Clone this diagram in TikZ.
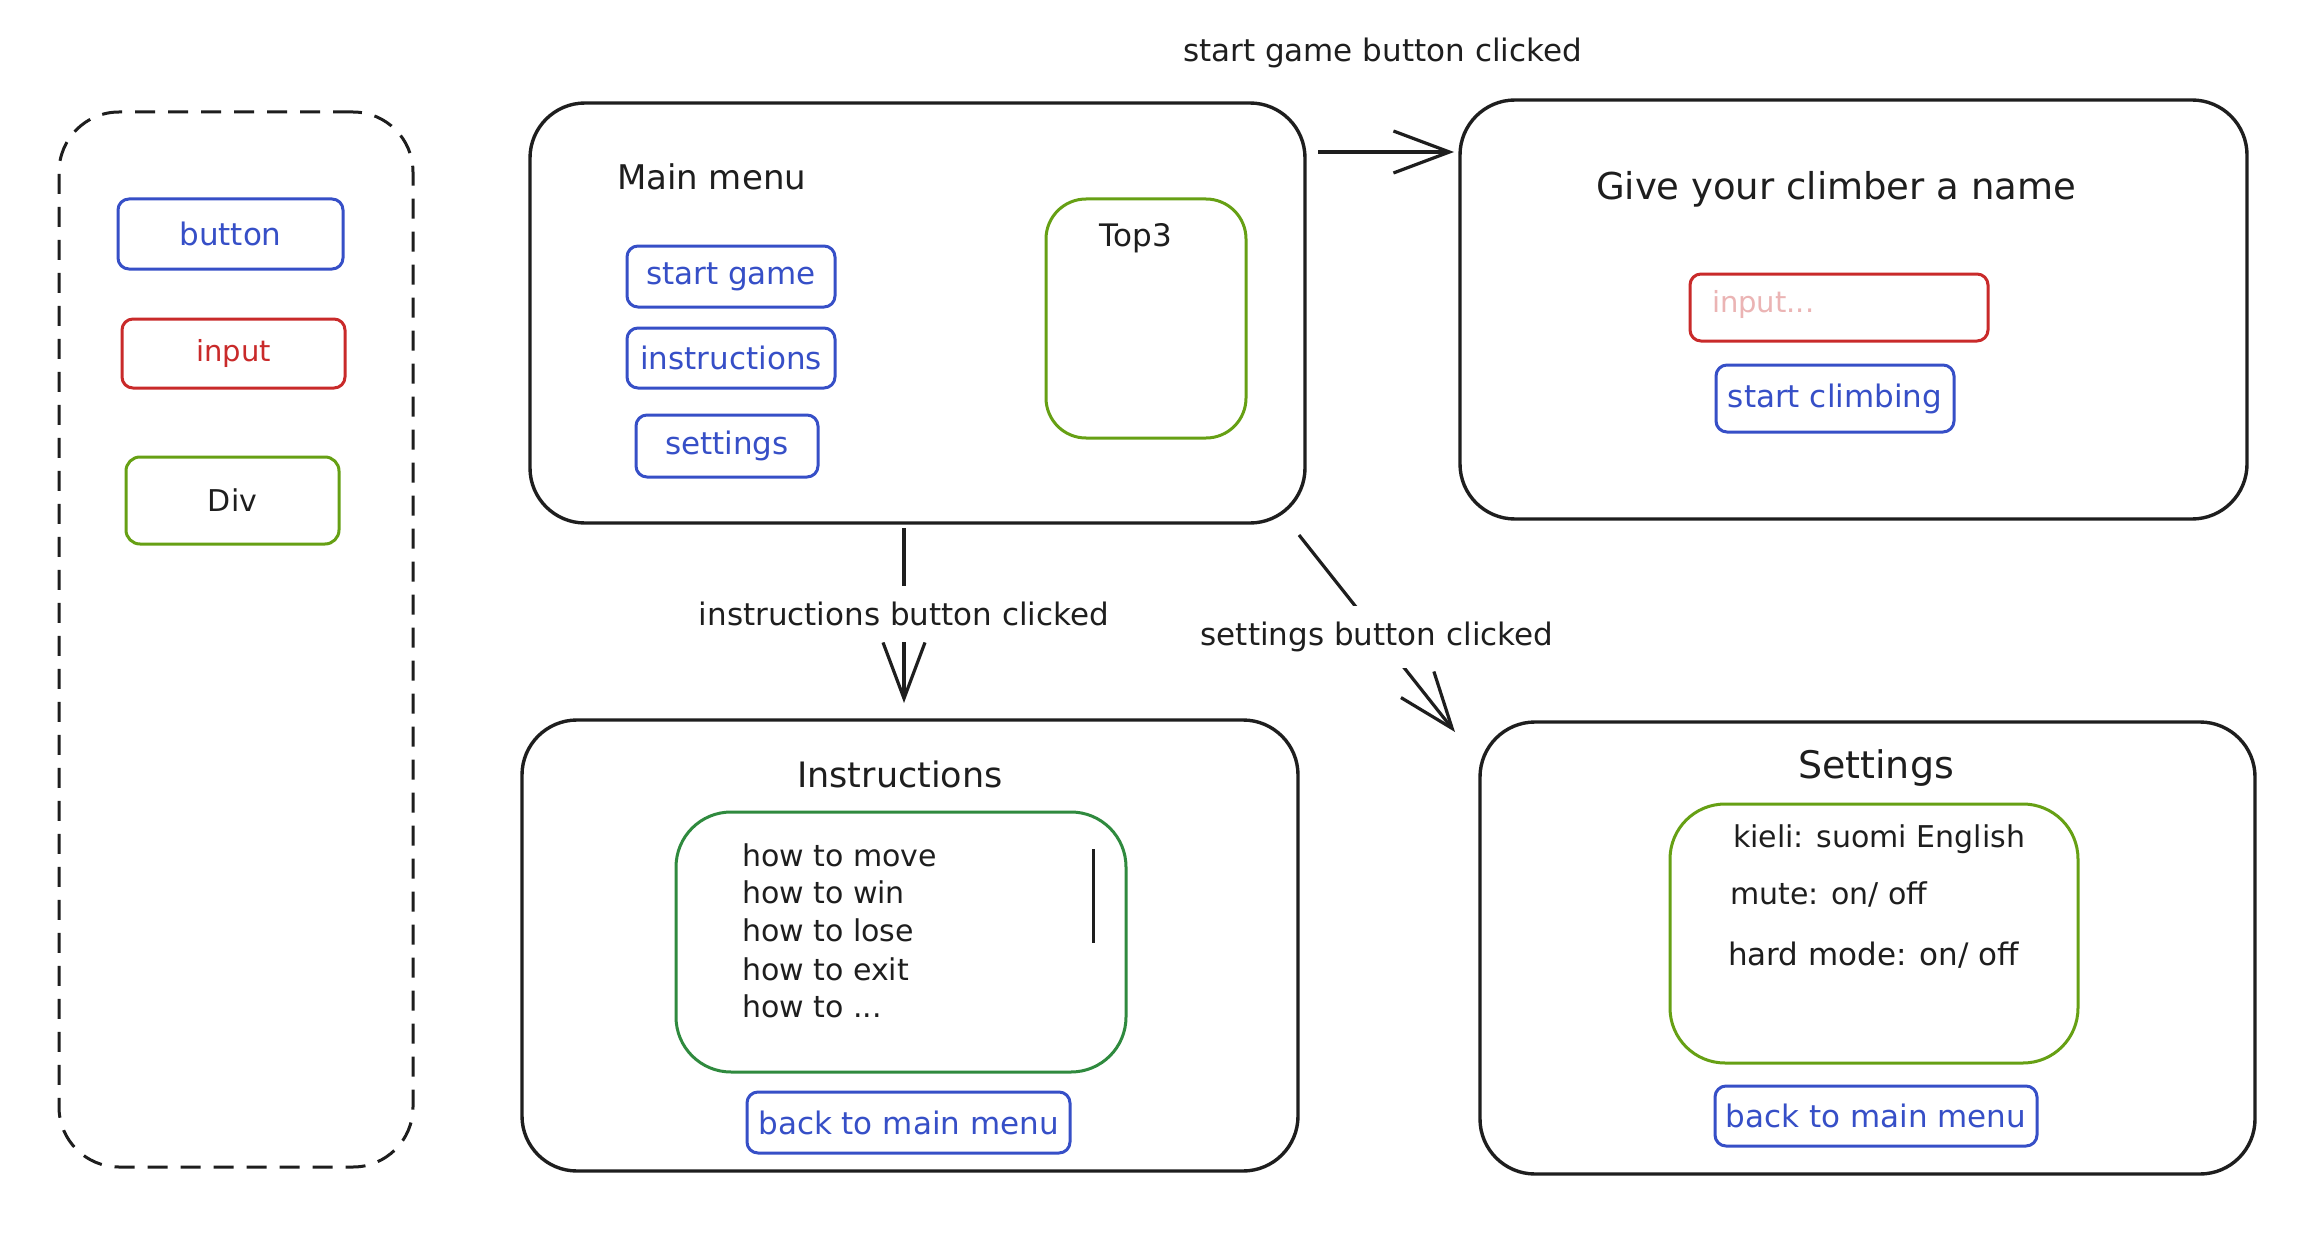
\documentclass[tikz,border=0pt]{standalone}
\usepackage{fontspec}
\setmainfont{DejaVu Sans}
\usetikzlibrary{arrows.meta}
\definecolor{ink}{HTML}{1E1E1E}
\definecolor{btnblue}{HTML}{364FC7}
\definecolor{inpred}{HTML}{C92A2A}
\definecolor{placeholder}{HTML}{EBB4B4}
\definecolor{olive}{HTML}{66A014}
\definecolor{darkgreen}{HTML}{2F8A3E}
\newcommand{\fsz}[1]{\fontsize{#1}{#1}\selectfont}
\begin{document}
\begin{tikzpicture}[x=1pt,y=-1pt,
  every node/.style={inner sep=0pt, outer sep=0pt},
  frame/.style={draw=ink, line width=3.4pt, rounded corners=55pt},
  legendbox/.style={draw=ink, line width=3pt, dash pattern=on 20pt off 13pt, rounded corners=60pt},
  btn/.style={draw=btnblue, line width=3pt, rounded corners=11pt, text=btnblue, font=\fsz{31}},
  inp/.style={draw=inpred, line width=3pt, rounded corners=11pt, text=inpred, font=\fsz{29}},
  divolive/.style={draw=olive, line width=3pt, rounded corners=40pt},
  divdark/.style={draw=darkgreen, line width=3pt, rounded corners=55pt},
  txt/.style={text=ink, font=\fsz{30}, anchor=base west},
  ttl/.style={text=ink, anchor=base},
  edgelbl/.style={fill=white, text=ink, font=\fsz{31}, inner xsep=4pt, inner ysep=16pt},
  arr/.style={draw=ink, line width=3.2pt, -{Straight Barb[length=56pt,width=42pt]}}
]
\fill[white] (0,0) rectangle (2310,1252);
\useasboundingbox (0,0) rectangle (2310,1252);

% legend
\node[legendbox, minimum width=354pt, minimum height=1055pt] (legend) at (236,639.5) {};
\node[btn, minimum width=225pt, minimum height=70pt] (lgbtn) at (230.5,234) {button};
\node[inp, minimum width=223pt, minimum height=69pt] (lginp) at (233.5,353.5) {input};
\node[divolive, rounded corners=14pt, minimum width=213pt, minimum height=87pt, text=ink, font=\fsz{30}] (lgdiv) at (232.5,500.5) {Div};

% main menu
\node[frame, minimum width=775pt, minimum height=420pt] (main) at (917.5,313) {};
\node[txt, font=\fsz{34}] (maint) at (617,190) {Main menu};
\node[btn, minimum width=208pt, minimum height=61pt] (bstart) at (731,276.5) {start game};
\node[btn, minimum width=208pt, minimum height=60pt] (binstr) at (731,358) {instructions};
\node[btn, minimum width=182pt, minimum height=62pt] (bsett) at (727,446) {settings};
\node[divolive, minimum width=200pt, minimum height=239pt] (top3) at (1146,318.5) {};
\node[ttl, font=\fsz{31}] (top3t) at (1136,246) {Top3};

% give name
\node[frame, minimum width=787pt, minimum height=419pt] (give) at (1853.5,309.5) {};
\node[ttl, font=\fsz{37}] (givet) at (1836,200) {Give your climber a name};
\node[inp, minimum width=298pt, minimum height=67pt] (nameinp) at (1839,307.5) {};
\node[txt, text=placeholder, font=\fsz{29}] (nameph) at (1712,312) {input...};
\node[btn, minimum width=238pt, minimum height=67pt] (bclimb) at (1835,398.5) {start climbing};

% instructions
\node[frame, minimum width=776pt, minimum height=451pt] (instr) at (910,945.5) {};
\node[ttl, font=\fsz{35}] (instrt) at (900,787) {Instructions};
\node[divdark, minimum width=450pt, minimum height=260pt] (instrdiv) at (901,942) {};
\node[txt] (h1) at (742,866) {how to move};
\node[txt] (h2) at (742,903) {how to win};
\node[txt] (h3) at (742,941) {how to lose};
\node[txt] (h4) at (742,980) {how to exit};
\node[txt] (h5) at (742,1017) {how to ...};
\draw[ink, line width=3pt] (1093,849) -- (1093,943);
\node[btn, minimum width=323pt, minimum height=61pt] (iback) at (908.5,1122.5) {back to main menu};

% settings
\node[frame, minimum width=775pt, minimum height=452pt] (sett) at (1867.5,948) {};
\node[ttl, font=\fsz{38}] (settt) at (1876,778) {Settings};
\node[divolive, rounded corners=55pt, minimum width=408pt, minimum height=259pt] (settdiv) at (1874,933.5) {};
\node[txt] (s1) at (1733,847) {kieli: suomi English};
\node[txt] (s2) at (1730,904) {mute: on/ off};
\node[txt, font=\fsz{31}] (s3) at (1728,965) {hard mode: on/ off};
\node[btn, minimum width=322pt, minimum height=60pt] (sback) at (1876,1116) {back to main menu};

% connectors
\draw[arr, shorten <=13pt, shorten >=6pt] ([yshift=-49pt]main.north east) -- ([yshift=-52pt]give.north west)
  node[midway, anchor=base, yshift=90pt, text=ink, font=\fsz{31}] (lblstart) {start game button clicked};
\draw[arr, shorten <=5pt, shorten >=17pt] ([xshift=-13.5pt]main.south) -- ([xshift=-6pt]instr.north)
  node[midway, edgelbl, yshift=8pt] (lblinstr) {instructions button clicked};
\draw[arr] ([xshift=-6pt,yshift=-12pt]main.south east) -- ([xshift=-25pt,yshift=-10pt]sett.north west)
  node[midway, edgelbl, yshift=-3pt] (lblsett) {settings button clicked};
\end{tikzpicture}
\end{document}
